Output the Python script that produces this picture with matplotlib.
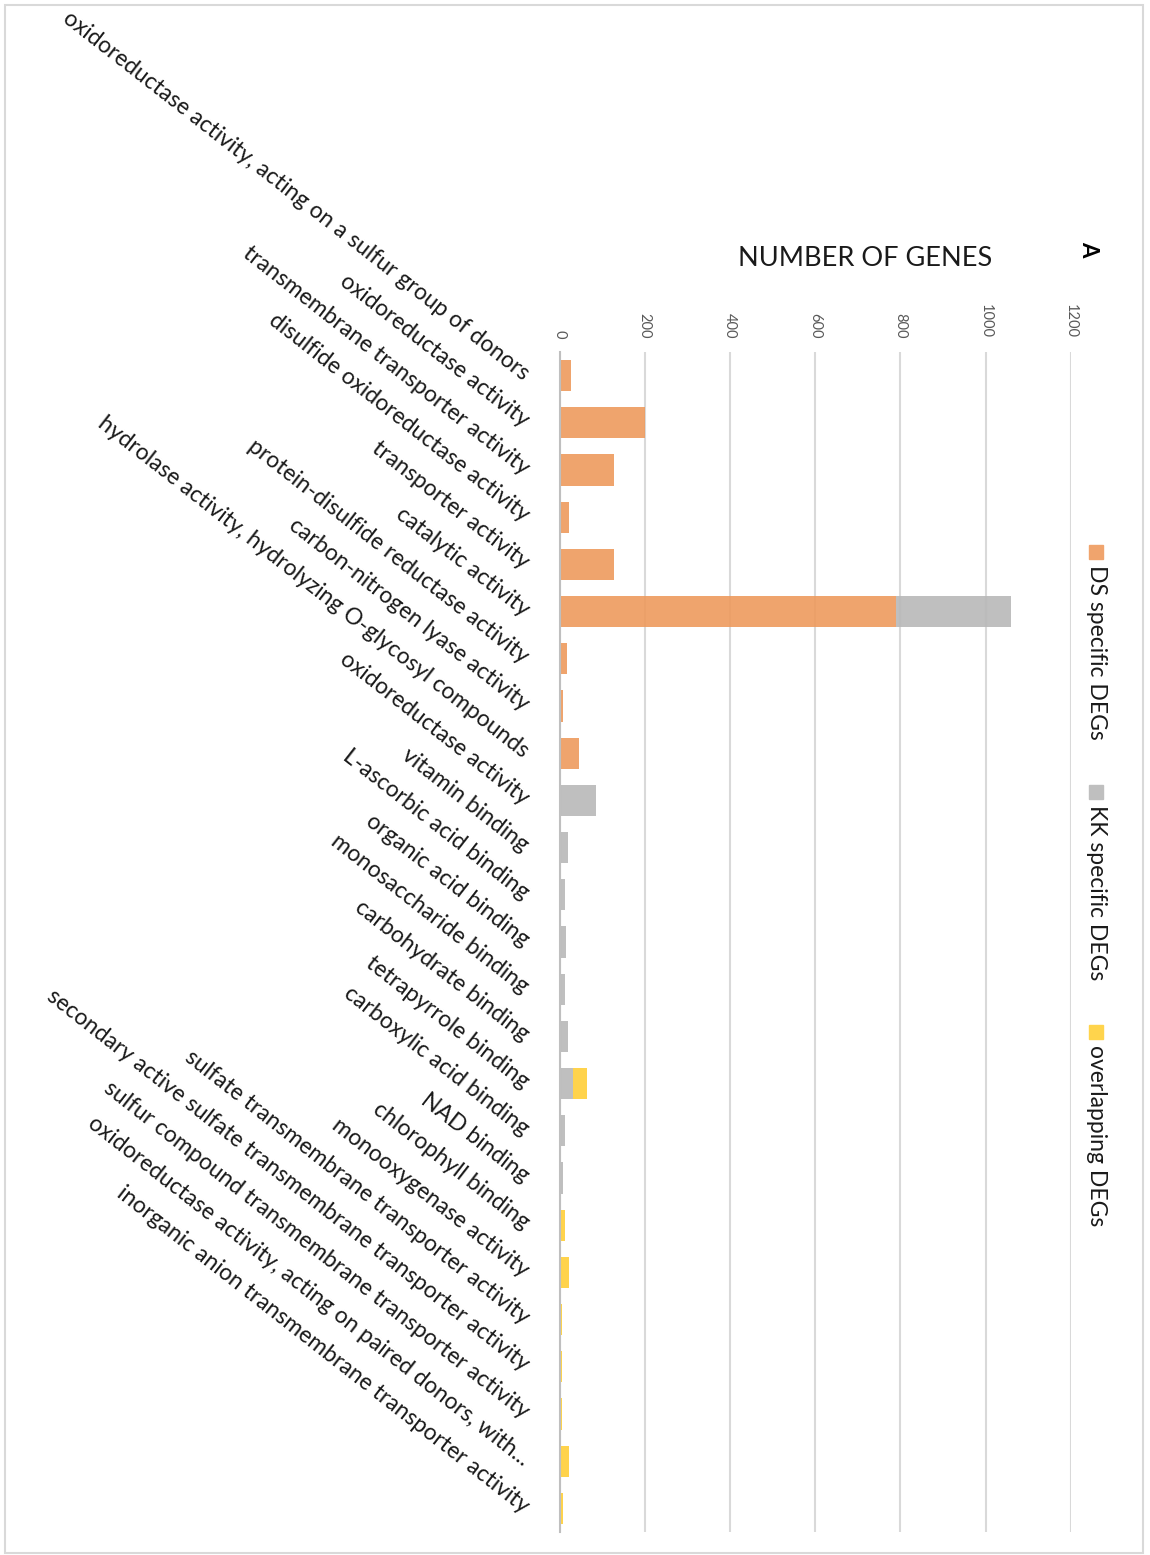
import numpy as np
import matplotlib.pyplot as plt
from matplotlib.patches import Rectangle

plt.rcParams['font.family'] = ['Lato', 'DejaVu Sans']

# GO molecular function terms, top to bottom
categories = [
    'oxidoreductase activity, acting on a sulfur group of donors',
    'oxidoreductase activity',
    'transmembrane transporter activity',
    'disulfide oxidoreductase activity',
    'transporter activity',
    'catalytic activity',
    'protein-disulfide reductase activity',
    'carbon-nitrogen lyase activity',
    'hydrolase activity, hydrolyzing O-glycosyl compounds',
    'oxidoreductase activity',
    'vitamin binding',
    'L-ascorbic acid binding',
    'organic acid binding',
    'monosaccharide binding',
    'carbohydrate binding',
    'tetrapyrrole binding',
    'carboxylic acid binding',
    'NAD binding',
    'chlorophyll binding',
    'monooxygenase activity',
    'sulfate transmembrane transporter activity',
    'secondary active sulfate transmembrane transporter activity',
    'sulfur compound transmembrane transporter activity',
    'oxidoreductase activity, acting on paired donors, with...',
    'inorganic anion transmembrane transporter activity',
]

ds_specific = [26, 200, 127, 21, 127, 790, 17, 9, 45, 0, 0, 0, 0, 0, 0, 0,
               0, 0, 0, 0, 0, 0, 0, 0, 0]
kk_specific = [0, 0, 0, 0, 0, 270, 0, 0, 0, 85, 20, 12, 15, 12, 20, 31,
               12, 9, 0, 0, 0, 0, 0, 0, 0]
overlapping = [0, 0, 0, 0, 0, 0, 0, 0, 0, 0, 0, 0, 0, 0, 0, 34,
               0, 0, 12, 23, 5, 5, 5, 23, 7]

series_names = ['DS specific DEGs', 'KK specific DEGs', 'overlapping DEGs']
legend_colors = ['#F0A46D', '#BFBFBF', '#FFD44C']
bar_colors = ['#EE9A5D', '#B8B8B8', '#FFCF38']
value_ticks = [0, 200, 400, 600, 800, 1000, 1200]

W, H = 1150, 1555
fig = plt.figure(figsize=(W / 100, H / 100), dpi=100)


def fx(x):
    return x / W


def fy(y):
    return 1 - y / H


ax = fig.add_axes([fx(559.6), fy(1532), (1070.7 - 559.6) / W, (1532 - 352) / H])

pos = np.arange(len(categories))
left = np.zeros(len(categories))
for vals, name, col in zip([ds_specific, kk_specific, overlapping], series_names, bar_colors):
    ax.barh(pos, vals, left=left, height=0.66, color=col, alpha=0.9, label=name, zorder=3)
    left += np.array(vals)

ax.set_xlim(0, 1200)
ax.set_ylim(len(categories) - 0.5, -0.5)

ax.set_xticks(value_ticks)
ax.xaxis.tick_top()
ax.tick_params(axis='x', length=0, pad=10, labelsize=10.5, labelcolor='#595959', labelrotation=-90)
ax.grid(axis='x', color='#D9D9D9', linewidth=1.5, zorder=0)

for side in ['top', 'right', 'bottom']:
    ax.spines[side].set_visible(False)
ax.spines['left'].set_color('#BFBFBF')
ax.spines['left'].set_linewidth(1.5)
ax.spines['left'].set_zorder(4)

ax.set_yticks(pos, categories, rotation=-38, ha='right', va='center',
              rotation_mode='anchor', fontsize=16.5, color='#1A1A1A')
ax.tick_params(axis='y', length=0, pad=24)

# titles
fig.text(fx(865), fy(258), 'NUMBER OF GENES', ha='center', va='center',
         fontsize=19.5, color='#1A1A1A')
fig.text(fx(1089), fy(249), 'A', rotation=-90, ha='center', va='center',
         fontsize=16, fontweight='bold')

# legend, stacked down the right side
for i, (name, col) in enumerate(zip(series_names, legend_colors)):
    top = 545 + i * 240
    fig.add_artist(Rectangle((fx(1089), fy(top + 14)), 14 / W, 14 / H,
                             transform=fig.transFigure, color=col))
    fig.text(fx(1096), fy(top + 20), name, rotation=-90, ha='center', va='top',
             fontsize=16.5, color='#1A1A1A')

fig.add_artist(Rectangle((fx(5), fy(1553)), (1143 - 5) / W, (1553 - 5) / H,
                         transform=fig.transFigure, fill=False,
                         edgecolor='#D9D9D9', linewidth=1.5))

fig.savefig('out.png', dpi=100)
